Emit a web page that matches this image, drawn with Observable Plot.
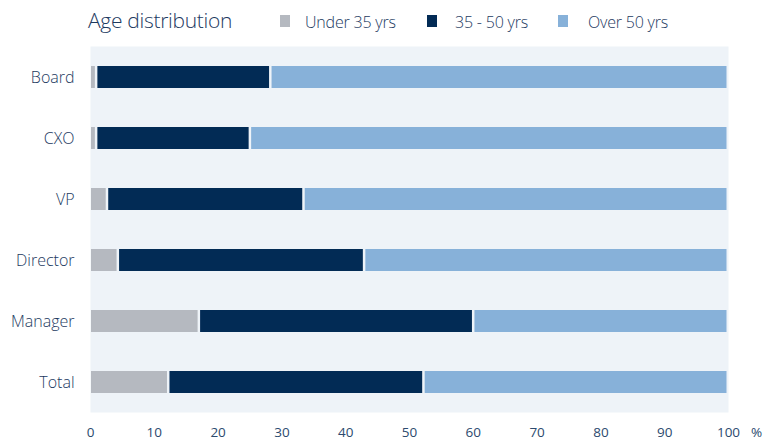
<!DOCTYPE html>
<html>
<head>
<meta charset="utf-8">
<script src="https://cdn.jsdelivr.net/npm/d3@7"></script>
<script src="https://cdn.jsdelivr.net/npm/@observablehq/plot@0.6"></script>
<style>
  body { margin: 0; background: #fff; font-family: "Open Sans", sans-serif; color: #1d3a5f; }
  #wrap { position: relative; width: 765px; height: 442px; overflow: hidden; }
  #head { position: absolute; left: 0; top: 0; width: 765px; height: 40px; }
  #title { position: absolute; left: 88px; top: 6px; font-size: 21px; font-weight: 300; color: #1d3a5f; white-space: nowrap; letter-spacing: -0.3px; }
  .lg { position: absolute; top: 11px; font-size: 16px; white-space: nowrap; color: #1d3a5f; font-weight: 300; letter-spacing: -0.2px; }
  .sw { position: absolute; top: 15px; width: 10px; height: 12px; }
  #chart { position: absolute; left: 0; top: 40px; }
  #chart svg { overflow: visible; }
</style>
</head>
<body>
<div id="wrap">
  <div id="head">
    <div id="title">Age distribution</div>
  </div>
  <div id="chart"></div>
</div>
<script>
const categories = ["Board", "CXO", "VP", "Director", "Manager", "Total"];
const seriesNames = ["Under 35 yrs", "35 - 50 yrs", "Over 50 yrs"];
const seriesColors = ["#b5b9c0", "#022b55", "#87b1d9"];
const under35 = [1.0, 1.0, 2.7, 4.4, 17.1, 12.3];
const from35to50 = [27.3, 24.1, 30.8, 38.6, 43.0, 40.0];
const over50 = [71.7, 74.9, 66.5, 57.0, 39.9, 47.7];
const xTicks = [0, 10, 20, 30, 40, 50, 60, 70, 80, 90, 100];

const seriesValues = [under35, from35to50, over50];
const data = [];
seriesNames.forEach((s, si) => {
  categories.forEach((c, ci) => {
    data.push({category: c, series: s, value: seriesValues[si][ci]});
  });
});

// legend
const head = document.getElementById("head");
const legendPos = [[280, 305], [427, 455], [558, 588]];
seriesNames.forEach((s, i) => {
  const sw = document.createElement("div");
  sw.className = "sw";
  sw.style.left = legendPos[i][0] + "px";
  sw.style.background = seriesColors[i];
  head.appendChild(sw);
  const t = document.createElement("div");
  t.className = "lg";
  t.style.left = legendPos[i][1] + "px";
  t.textContent = s;
  head.appendChild(t);
});

const chart = Plot.plot({
  width: 765,
  height: 402,
  marginTop: 6,
  marginBottom: 30,
  marginLeft: 90,
  marginRight: 37,
  style: {fontFamily: "Open Sans, sans-serif", color: "#1d3a5f", background: "transparent", overflow: "visible"},
  x: {domain: [0, 100]},
  y: {domain: categories, paddingInner: 0.644, paddingOuter: 0.29, align: 0.5},
  color: {domain: seriesNames, range: seriesColors},
  marks: [
    Plot.frame({fill: "#eef3f8", stroke: null}),
    Plot.barX(data, {
      x: "value", y: "category", fill: "series",
      order: seriesNames, insetRight: 1.5, insetLeft: 1
    }),
    Plot.axisY({tickSize: 0, tickPadding: 16, fontSize: 16, fontWeight: 300, fill: "#1d3a5f", label: null}),
    Plot.axisX({ticks: xTicks, tickSize: 0, tickPadding: 15, fontSize: 13.5, fill: "#2c4a6e", label: null}),
    Plot.text(["%"], {frameAnchor: "bottom-right", dx: 28, dy: 24, fontSize: 13.5, fill: "#2c4a6e", textAnchor: "middle"})
  ]
});
document.getElementById("chart").appendChild(chart);
</script>
</body>
</html>
